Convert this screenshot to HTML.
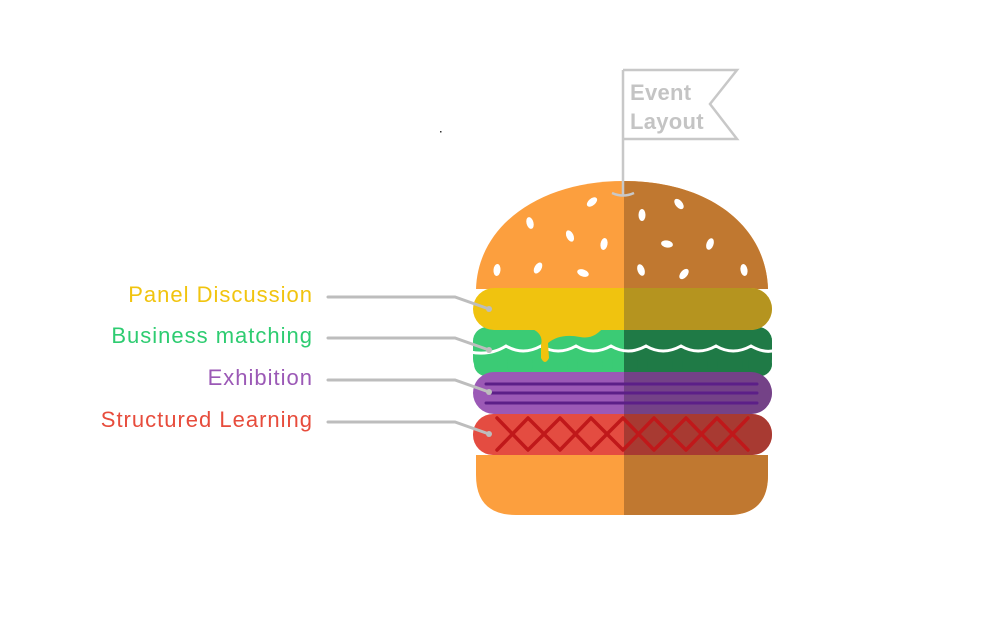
<!DOCTYPE html>
<html><head><meta charset="utf-8"><style>
html,body{margin:0;padding:0;background:#fff;width:981px;height:625px;overflow:hidden}
svg{display:block}
text{font-family:"Liberation Sans",sans-serif}
</style></head><body>
<svg width="981" height="625" viewBox="0 0 981 625" xmlns="http://www.w3.org/2000/svg">
<defs>
<clipPath id="R"><rect x="624" y="0" width="400" height="625"/></clipPath>
<g id="bunTop"><path d="M476,289 C478,225 540,181 624,181 C708,181 766,225 768,289 Z"/></g>
<g id="cheese"><rect x="473" y="288" width="299" height="42" rx="21"/></g>
<g id="let"><rect x="473" y="327" width="299" height="46" rx="14"/>
<circle cx="486" cy="364" r="12"/><circle cx="520" cy="364" r="13"/><circle cx="555" cy="364" r="13"/><circle cx="590" cy="364" r="13"/><circle cx="625" cy="364" r="13"/><circle cx="660" cy="364" r="13"/><circle cx="695" cy="364" r="13"/><circle cx="730" cy="364" r="13"/><circle cx="760" cy="364" r="12"/></g>
<g id="purple"><rect x="473" y="372" width="299" height="42" rx="21"/></g>
<g id="red"><rect x="473" y="414" width="299" height="41" rx="20"/></g>
<g id="bunBot"><path d="M476,455 L768,455 L768,475 Q768,515 728,515 L516,515 Q476,515 476,475 Z"/></g>
</defs>
<use href="#bunTop" fill="#FC9F3E"/>
<use href="#let" fill="#3BCB75"/>
<use href="#purple" fill="#9B59B6"/>
<use href="#red" fill="#E44C41"/>
<use href="#bunBot" fill="#FC9F3E"/>
<g clip-path="url(#R)">
<use href="#bunTop" fill="#C07830"/>
<use href="#let" fill="#1F7A46"/>
<use href="#purple" fill="#744287"/>
<use href="#red" fill="#A83A32"/>
<use href="#bunBot" fill="#C07830"/>
</g>
<!-- lettuce gap -->
<path d="M470,352 Q490,356 506,346 Q523,356 541,346 Q558,356 576,346 Q593,356 611,346 Q628,356 646,346 Q663,356 681,346 Q698,356 716,346 Q733,356 751,346 Q765,354 776,350" stroke="#fff" stroke-width="3" fill="none"/>
<use href="#cheese" fill="#F0C30F"/>
<path d="M520,325 Q545,330 541,345 L541,358 Q545,366 549,358 L548,343 Q560,333 580,337 Q595,340 605,325 Z" fill="#F0C30F"/>
<g clip-path="url(#R)"><use href="#cheese" fill="#B5941F"/></g>
<g stroke="#5C1F88" stroke-width="3" stroke-linecap="round">
<line x1="486" y1="384" x2="757" y2="384"/><line x1="490" y1="393" x2="757" y2="393"/><line x1="486" y1="403" x2="757" y2="403"/>
</g>
<g stroke="#C0181A" stroke-width="3.5" fill="none" stroke-linejoin="round" stroke-linecap="round">
<polyline points="497,418 528,450 560,418 591,450 623,418 654,450 686,418 717,450 748,418"/>
<polyline points="497,450 528,418 560,450 591,418 623,450 654,418 686,450 717,418 748,450"/>
</g>
<g fill="#fff">
<ellipse cx="592" cy="202" rx="3.5" ry="6" transform="rotate(50 592 202)"/>
<ellipse cx="530" cy="223" rx="3.5" ry="6" transform="rotate(-15 530 223)"/>
<ellipse cx="570" cy="236" rx="3.5" ry="6" transform="rotate(-25 570 236)"/>
<ellipse cx="604" cy="244" rx="3.5" ry="6" transform="rotate(10 604 244)"/>
<ellipse cx="497" cy="270" rx="3.5" ry="6" transform="rotate(5 497 270)"/>
<ellipse cx="538" cy="268" rx="3.5" ry="6" transform="rotate(30 538 268)"/>
<ellipse cx="583" cy="273" rx="3.5" ry="6" transform="rotate(-70 583 273)"/>
<ellipse cx="642" cy="215" rx="3.5" ry="6" transform="rotate(0 642 215)"/>
<ellipse cx="679" cy="204" rx="3.5" ry="6" transform="rotate(-40 679 204)"/>
<ellipse cx="667" cy="244" rx="3.5" ry="6" transform="rotate(-80 667 244)"/>
<ellipse cx="710" cy="244" rx="3.5" ry="6" transform="rotate(20 710 244)"/>
<ellipse cx="641" cy="270" rx="3.5" ry="6" transform="rotate(-20 641 270)"/>
<ellipse cx="684" cy="274" rx="3.5" ry="6" transform="rotate(40 684 274)"/>
<ellipse cx="744" cy="270" rx="3.5" ry="6" transform="rotate(-10 744 270)"/>
</g>
<g stroke="#C8C8C8" stroke-width="2.5" fill="none">
<line x1="623" y1="70" x2="623" y2="195"/>
<path d="M612,193 Q623,198 634,193"/>
<path d="M623,70 L737,70 L710,104 L737,139 L623,139"/>
</g>
<g font-size="22" fill="#C4C4C4" font-weight="bold" letter-spacing="0.3">
<text x="630" y="100">Event</text>
<text x="630" y="129">Layout</text>
</g>
<g stroke="#BDBDBD" stroke-width="3" fill="none" stroke-linecap="round">
<polyline points="328,297 455,297 489,309"/>
<polyline points="328,338 455,338 489,350"/>
<polyline points="328,380 455,380 489,392"/>
<polyline points="328,422 455,422 489,434"/>
</g>
<g fill="#BDBDBD"><circle cx="489" cy="309" r="3"/><circle cx="489" cy="350" r="3"/><circle cx="489" cy="392" r="3"/><circle cx="489" cy="434" r="3"/></g>
<g font-size="22" text-anchor="end" letter-spacing="1">
<text x="313" y="302" fill="#F1C40F">Panel Discussion</text>
<text x="313" y="343" fill="#2ECC71">Business matching</text>
<text x="313" y="385" fill="#9B59B6">Exhibition</text>
<text x="313" y="427" fill="#E74C3C">Structured Learning</text>
</g>
<rect x="440" y="131" width="1.5" height="1.5" fill="#333"/>
</svg>
</body></html>
